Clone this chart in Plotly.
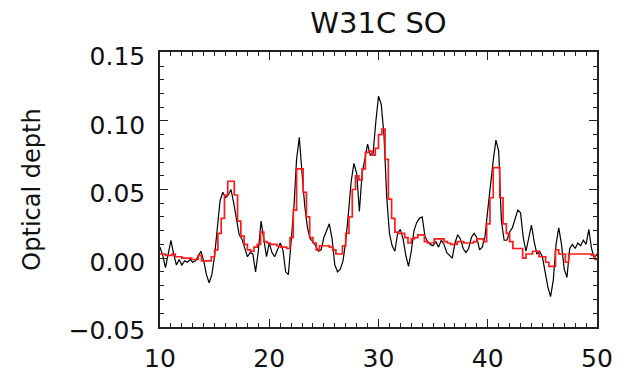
import numpy as np
import plotly.graph_objects as go

# Observed SO optical depth, channels every 0.25 km/s starting at 10 km/s
obs_start, obs_step = 10.0, 0.25
obs_tau = [
    0.008, 0.002, -0.007, 0.004,
    0.013, 0.003, -0.005, -0.001,
    -0.005, -0.002, -0.003, -0.001,
    -0.003, -0.002, 0.002, 0.005,
    -0.002, -0.012, -0.018, -0.012,
    0.002, 0.025, 0.042, 0.048,
    0.044, 0.046, 0.050, 0.040,
    0.028, 0.017, 0.014, 0.007,
    0.001, 0.004, 0.003, -0.010,
    0.005, 0.027, 0.012, 0.001,
    0.011, 0.004, 0.001, 0.006,
    0.011, 0.006, -0.010, -0.012,
    0.010, 0.036, 0.072, 0.088,
    0.062, 0.038, 0.022, 0.014,
    0.012, 0.009, 0.005, 0.006,
    0.015, 0.020, 0.025, 0.014,
    -0.005, -0.010, -0.008, -0.002,
    0.012, 0.033, 0.056, 0.069,
    0.062, 0.034, 0.062, 0.072,
    0.083, 0.075, 0.076, 0.099,
    0.118, 0.112, 0.090, 0.045,
    0.018, 0.009, 0.005, 0.018,
    0.021, 0.014, 0.002, -0.006,
    0.005, 0.020, 0.026, 0.029,
    0.030, 0.016, 0.012, 0.010,
    0.009, 0.012, 0.008, 0.013,
    0.010, 0.004, 0.002, 0.000,
    0.011, 0.017, 0.014, 0.007,
    0.004, 0.007, 0.015, 0.018,
    0.015, 0.006, 0.008, 0.016,
    0.035, 0.055, 0.071, 0.086,
    0.078, 0.027, 0.013, 0.013,
    0.019, 0.022, 0.029, 0.035,
    0.033, 0.015, 0.005, 0.014,
    0.024, 0.012, 0.003, 0.005,
    0.001, -0.010, -0.021, -0.028,
    -0.016, 0.010, 0.022, 0.010,
    -0.008, -0.014, 0.007, 0.010,
    0.007, 0.011, 0.009, 0.013,
    0.010, 0.021, 0.007, 0.000,
    0.003,
]

# Model optical depth, histogram bins of 0.3 km/s starting at 9.9 km/s
model_start, model_step = 9.9, 0.3
model_tau = [
    0.003, 0.003, 0.002, 0.002, 0.003, 0.001, 0.001, 0.000, 0.000, 0.000,
    -0.001, -0.001, 0.002, -0.002, -0.002, -0.002, 0.001, 0.006, 0.018, 0.029,
    0.046, 0.056, 0.056, 0.046, 0.027, 0.016, 0.010, 0.006, 0.005, 0.008,
    0.010, 0.019, 0.012, 0.011, 0.010, 0.010, 0.009, 0.008, 0.008, 0.007,
    0.015, 0.035, 0.065, 0.065, 0.048, 0.030, 0.015, 0.011, 0.006, 0.009,
    0.009, 0.009, 0.008, 0.006, 0.003, 0.003, 0.009, 0.018, 0.030, 0.050,
    0.060, 0.057, 0.065, 0.077, 0.078, 0.075, 0.080, 0.090, 0.094, 0.072,
    0.043, 0.029, 0.019, 0.018, 0.018, 0.015, 0.011, 0.014, 0.015, 0.017,
    0.017, 0.012, 0.011, 0.011, 0.014, 0.014, 0.014, 0.012, 0.011, 0.010,
    0.010, 0.012, 0.012, 0.011, 0.011, 0.011, 0.012, 0.014, 0.014, 0.012,
    0.025, 0.044, 0.066, 0.066, 0.044, 0.025, 0.018, 0.012, 0.007, 0.007,
    0.007, 0.000, 0.003, 0.003, 0.005, 0.005, 0.001, 0.001, -0.003, -0.006,
    -0.006, 0.006, 0.003, 0.003, -0.003, 0.003, 0.003, 0.003, 0.003, 0.003,
    0.003, 0.003, 0.002, -0.001,
]

title_text = "W31C SO"
y_title = "Optical depth"
x_ticks = [10, 20, 30, 40, 50]
y_ticks = [-0.05, 0.0, 0.05, 0.10, 0.15]
y_ticklabels = ["\u22120.05", "0.00", "0.05", "0.10", "0.15"]

obs_v = obs_start + obs_step * np.arange(len(obs_tau))
# step outline: left bin edges plus a closing point at the last right edge
edges = model_start + model_step * np.arange(len(model_tau) + 1)
model_y = list(model_tau) + [model_tau[-1]]

fig = go.Figure()
fig.add_trace(go.Scatter(x=obs_v, y=obs_tau, mode="lines",
                         line=dict(color="black", width=1.2)))
fig.add_trace(go.Scatter(x=edges, y=model_y, mode="lines",
                         line=dict(color="#ff1a1a", width=1.7, shape="hv")))

font = "DejaVu Sans"
axis_common = dict(
    showgrid=False, zeroline=False, showline=True, linecolor="#222222",
    linewidth=1.5, mirror="allticks", ticks="inside", ticklen=8,
    tickwidth=1, tickcolor="#222222", automargin=False,
    tickfont=dict(family=font, size=25, color="#111111"),
)

fig.update_xaxes(range=[10, 50], tickvals=x_ticks,
                 minor=dict(dtick=1, ticks="inside", ticklen=4,
                            tickcolor="#222222", tickwidth=1),
                 ticklabelstandoff=8, **axis_common)
fig.update_yaxes(range=[-0.0502, 0.1502], tickvals=y_ticks,
                 ticktext=y_ticklabels,
                 minor=dict(dtick=0.01, ticks="inside", ticklen=4,
                            tickcolor="#222222", tickwidth=1),
                 ticklabelstandoff=8, ticklabelshift=4,
                 title=dict(text=y_title, standoff=21,
                            font=dict(family=font, size=24, color="#111111")),
                 **axis_common)

fig.update_layout(
    width=622, height=373,
    margin=dict(l=160, r=25, t=52, b=46, autoexpand=False),
    paper_bgcolor="white", plot_bgcolor="white",
    showlegend=False,
    title=dict(text=title_text, x=0.6085, xanchor="center", y=0.94,
               yanchor="middle",
               font=dict(family=font, size=29, color="#111111")),
)

fig.write_html("out.html")
